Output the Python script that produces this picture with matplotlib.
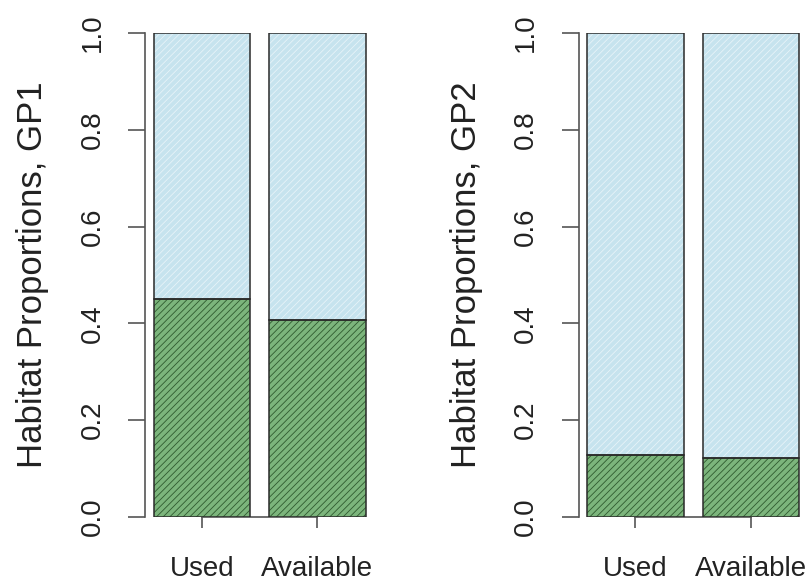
import matplotlib
matplotlib.use("Agg")
import matplotlib.pyplot as plt

plt.rcParams['font.family'] = ['Liberation Sans', 'DejaVu Sans']
plt.rcParams['hatch.linewidth'] = 0.6

categories = ["Used", "Available"]
gp1_green = [0.45, 0.408]
gp2_green = [0.128, 0.122]
panel_labels = ["Habitat Proportions, GP1", "Habitat Proportions, GP2"]
yticks = [0.0, 0.2, 0.4, 0.6, 0.8, 1.0]
ytick_labels = ["0.0", "0.2", "0.4", "0.6", "0.8", "1.0"]

W, H = 811, 584
fig = plt.figure(figsize=(W / 100, H / 100), dpi=100)

unit = 96.25
xlim = (0.112, 2.488)
centers = [0.7, 1.9]
bar_w = 1.0

green_face, green_hatch = "#7cb57c", "#2f5a2f"
blue_face, blue_hatch = "#c6e3ee", "#e6f3f8"
edge = "#2a2a2a"
axis_col = "#555555"

lefts_px = [145.4, 578.9]
bottom_px = 517
top_px = 33

for i, (green, lab, left_px) in enumerate(zip([gp1_green, gp2_green], panel_labels, lefts_px)):
    ax = fig.add_axes([left_px / W, (H - bottom_px) / H,
                       (xlim[1] - xlim[0]) * unit / W, (bottom_px - top_px) / H])
    ax.set_xlim(*xlim)
    ax.set_ylim(0, 1)
    blue = [1 - g for g in green]
    ax.plot(centers, [0, 0], color=axis_col, lw=1.2, zorder=0.5, clip_on=False)
    ax.bar(centers, green, width=bar_w, color=green_face, edgecolor="none", lw=0, zorder=1)
    ax.bar(centers, blue, width=bar_w, bottom=green, color=blue_face, edgecolor="none", lw=0, zorder=1)
    ax.bar(centers, green, width=bar_w, facecolor="none", edgecolor=green_hatch, lw=0,
           hatch="/" * 5, zorder=2)
    ax.bar(centers, blue, width=bar_w, bottom=green, facecolor="none", edgecolor=blue_hatch, lw=0,
           hatch="/" * 5, zorder=2)
    ax.bar(centers, green, width=bar_w, facecolor="none", edgecolor=edge, lw=1.1, zorder=3)
    ax.bar(centers, blue, width=bar_w, bottom=green, facecolor="none", edgecolor=edge, lw=1.1, zorder=3)

    for s in ["top", "right", "bottom"]:
        ax.spines[s].set_visible(False)
    ax.spines["left"].set_color(axis_col)
    ax.spines["left"].set_linewidth(1.2)
    ax.set_yticks(yticks)
    ax.set_yticklabels(ytick_labels, rotation=90, va="center", fontsize=20, color="#222222")
    ax.tick_params(axis="y", length=12.5, width=1.2, color=axis_col, pad=16)
    ax.set_xticks(centers)
    ax.set_xticklabels(categories, fontsize=20, color="#222222")
    ax.tick_params(axis="x", length=8, width=1.2, color=axis_col, pad=20)

    fig.text((42 + left_px - lefts_px[0]) / W, 1 - 275 / H, lab, rotation=90,
             rotation_mode="anchor", ha="center", va="baseline", fontsize=25, color="#222222")

fig.savefig("out.png", dpi=100)
